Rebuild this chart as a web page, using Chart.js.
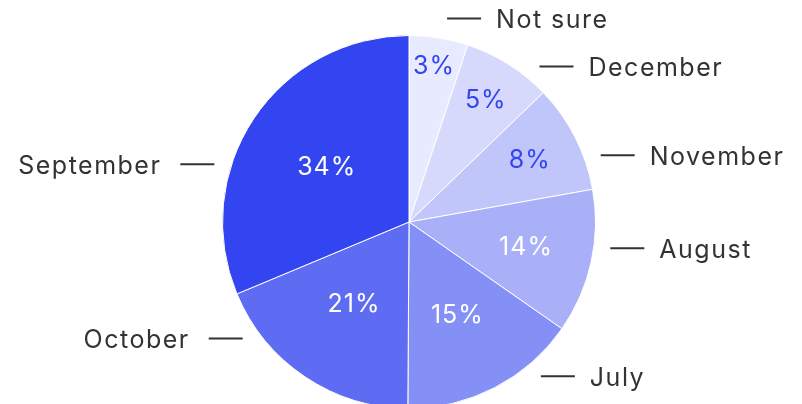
<!DOCTYPE html>
<html>
<head>
<meta charset="utf-8">
<script src="https://cdn.jsdelivr.net/npm/chart.js@4"></script>
<style>
  html, body { margin: 0; padding: 0; background: #fff; overflow: hidden; }
  #wrap { width: 802px; height: 404px; overflow: hidden; }
</style>
</head>
<body>
<div id="wrap"><canvas id="chart-pie" width="802" height="440"></canvas></div>
<script>
// slices clockwise from 12 o'clock
var months = ["Not sure", "December", "November", "August", "July", "October", "September"];
var shares = [5.1, 7.7, 9.4, 12.5, 15.4, 18.6, 31.3]; // slice sizes as drawn
var pctLabels = ["3%", "5%", "8%", "14%", "15%", "21%", "34%"];
var sliceColors = ["#e8eafd", "#d6d9fc", "#c1c6fa", "#a9b0f8", "#8490f5", "#5d6cf2", "#3345f0"];

// callout placement: angle (deg from top, clockwise) of the inner dash end
var calloutAngles = [10.6, 40, 70.8, 97.4, 139.5, 235, 286.5];

var labelPlugin = {
  id: "pieLabels",
  afterDatasetsDraw: function (chart) {
    var ctx = chart.ctx;
    var meta = chart.getDatasetMeta(0);
    ctx.save();
    ctx.textBaseline = "middle";
    meta.data.forEach(function (arc, i) {
      var cx = arc.x, cy = arc.y, R = arc.outerRadius;
      var mid = (arc.startAngle + arc.endAngle) / 2;
      var frac = Math.max(0.53, 0.98 - 0.027 * shares[i]);
      var px = cx + Math.cos(mid) * R * frac;
      var py = cy + Math.sin(mid) * R * frac;
      ctx.font = "400 25px Inter";
      ctx.letterSpacing = "1px";
      ctx.textAlign = "center";
      ctx.fillStyle = i < 3 ? "#3345f0" : "#ffffff";
      ctx.fillText(pctLabels[i], px, py);

      // outside callout
      var a = calloutAngles[i] * Math.PI / 180;
      var r = i === 0 ? 207 : 203;
      var x0 = cx + Math.sin(a) * r;
      var y0 = cy - Math.cos(a) * r;
      var right = Math.sin(a) > 0;
      var x1 = right ? x0 + 34 : x0 - 34;
      ctx.strokeStyle = "#333333";
      ctx.lineWidth = 2;
      ctx.beginPath();
      ctx.moveTo(x0, y0);
      ctx.lineTo(x1, y0);
      ctx.stroke();
      ctx.font = "400 25px Inter";
      ctx.letterSpacing = "1.5px";
      ctx.fillStyle = "#333333";
      ctx.textAlign = right ? "left" : "right";
      ctx.fillText(months[i], right ? x1 + 15 : x1 - 19, y0 + 2);
    });
    ctx.restore();
  }
};

var ctx = document.getElementById("chart-pie").getContext("2d");

new Chart(ctx, {
  type: "pie",
  data: {
    labels: months,
    datasets: [
      {
        data: shares,
        backgroundColor: sliceColors,
        borderColor: "#ffffff",
        borderWidth: 1,
      },
    ],
  },
  options: {
    responsive: false,
    animation: false,
    layout: {
      padding: { top: 35, bottom: 31, left: 222, right: 206 },
    },
    plugins: {
      legend: { display: false },
      tooltip: { enabled: false },
    },
  },
  plugins: [labelPlugin],
});
</script>
</body>
</html>
